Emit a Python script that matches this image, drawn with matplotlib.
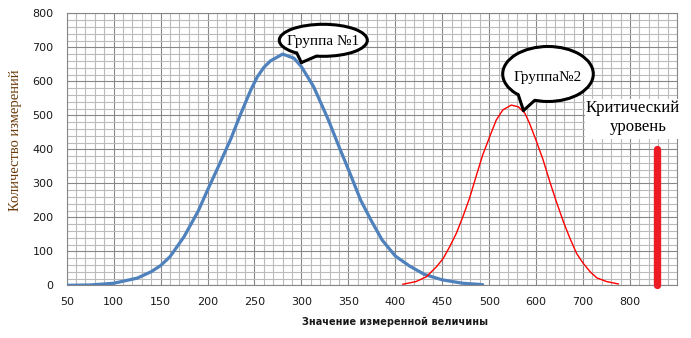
import numpy as np
import matplotlib
matplotlib.use('Agg')
import matplotlib.pyplot as plt
from matplotlib.patches import Ellipse, Polygon, Rectangle
from matplotlib.lines import Line2D

# ---------------- data ----------------
x_tick_values = [50, 100, 150, 200, 250, 300, 350, 400, 450, 500, 600, 700, 800]
y_tick_values = [0, 100, 200, 300, 400, 500, 600, 700, 800]

group1_x = [50, 75, 100, 125, 140, 150, 160, 175, 190, 200, 212, 225, 235, 246, 253,
            260, 267, 280, 292, 300, 313, 328, 340, 351, 363, 374, 386, 400, 415,
            431, 450, 472, 493]
group1_y = [0, 1, 6, 21, 40, 58, 84, 143, 218, 280, 352, 432, 502, 574, 613,
            641, 660, 680, 668, 643, 584, 491, 408, 334, 251, 192, 133, 86, 57,
            32, 16, 6, 2]

group2_x = [408, 422, 433, 444, 451, 458, 465, 472, 479, 486, 493, 501, 515, 529,
            547, 562, 576, 586, 601, 615, 629, 643, 658, 672, 686, 700, 715, 729,
            750, 775]
group2_y = [3, 11, 25, 55, 79, 114, 153, 202, 256, 320, 383, 437, 486, 516,
            530, 525, 506, 476, 422, 368, 305, 246, 187, 138, 94, 65, 40, 22,
            11, 4]

critical_x = 858
critical_y = [0, 400]

label_group1 = "Группа №1"
label_group2 = "Группа№2"
label_crit1 = "Критический"
label_crit2 = "уровень"
x_label = "Значение измеренной величины"
y_label = "Количество измерений"


# ---------------- piecewise axis scale (category-like spacing) ----------------
def fwd(x):
    x = np.asarray(x, dtype=float)
    return np.where(x <= 500, (x - 50) / 50.0, 9 + (x - 500) / 100.0)


def inv(u):
    u = np.asarray(u, dtype=float)
    return np.where(u <= 9, 50 + 50 * u, 500 + 100 * (u - 9))


W, H = 691, 338
fig = plt.figure(figsize=(W / 100, H / 100), dpi=100)
fig.patch.set_facecolor('white')

L, R, T, B = 66.7, 677.0, 13.3, 285.3
ax = fig.add_axes([L / W, 1 - B / H, (R - L) / W, (B - T) / H])
ax.set_xscale('function', functions=(fwd, inv))
ax.set_xlim(50, 900)
ax.set_ylim(0, 800)

minor_x = [v for v in list(np.arange(60, 500, 10)) + list(np.arange(520, 900, 20))
           if v not in x_tick_values]
ax.set_xticks(x_tick_values)
ax.set_xticklabels([str(v) for v in x_tick_values])
ax.set_xticks(minor_x, minor=True)
ax.set_yticks(y_tick_values)
ax.set_yticks([v for v in range(0, 801, 20) if v % 100], minor=True)

ax.set_axisbelow(True)
ax.grid(which='major', color='#878787', lw=0.8)
ax.grid(which='minor', color='#BBBBBB', lw=0.8)
ax.tick_params(which='both', length=0)
ax.tick_params(axis='y', which='major', labelsize=8, pad=9.5, labelcolor='#1a1a1a')
ax.tick_params(axis='x', which='major', labelsize=8, pad=8.5, labelcolor='#1a1a1a')
for s in ax.spines.values():
    s.set_color('#878787')
    s.set_linewidth(0.8)

# series
ax.plot(group1_x, group1_y, color='#4F81BD', lw=2.3, solid_joinstyle='round',
        solid_capstyle='round', zorder=3)
ax.plot(group2_x, group2_y, color='#FF0000', lw=1.0, solid_joinstyle='round', zorder=3)
ax.plot([critical_x, critical_x], critical_y, color='#ED1C24', lw=5.3,
        solid_capstyle='round', clip_on=False, zorder=4)

# axis labels
fig.text(16 / W, 1 - 140 / H, y_label, rotation=90, ha='center', va='center',
         family='Liberation Serif', fontsize=10.5, color='#6B3A0A')
fig.text(395 / W, 1 - 322 / H, x_label, ha='center', va='center',
         fontsize=7, fontweight='bold', color='#1a1a1a')


# ---------------- callouts ----------------
def px2fig(x, y):
    return (x / W, 1 - y / H)


def bubble(cx, cy, w, h, a1, a2, tip_data, text, fs, ty=None):
    tip_disp = ax.transData.transform(tip_data)
    tip = fig.transFigure.inverted().transform(tip_disp)
    e = Ellipse(px2fig(cx, cy), w / W, h / H, transform=fig.transFigure,
                facecolor='white', edgecolor='black', lw=2.2, zorder=10)
    fig.patches.append(e)
    pts = []
    inner = []
    for a in (a1, a2):
        r = np.deg2rad(a)
        pts.append(px2fig(cx + w / 2 * np.cos(r), cy + h / 2 * np.sin(r)))
        inner.append(px2fig(cx + (w / 2 - 4) * np.cos(r), cy + (h / 2 - 4) * np.sin(r)))
    poly = Polygon([inner[0], pts[0], tip, pts[1], inner[1]], closed=True,
                   transform=fig.transFigure, facecolor='white', edgecolor='none',
                   zorder=11)
    fig.patches.append(poly)
    for p in pts:
        fig.lines.append(Line2D([p[0], tip[0]], [p[1], tip[1]], transform=fig.transFigure,
                                color='black', lw=2.2, solid_capstyle='round', zorder=12))
    fig.text(*px2fig(cx, cy if ty is None else ty), text, ha='center', va='center',
             family='Liberation Serif', fontsize=fs, zorder=13)


bubble(323.3, 40.3, 88, 32, 127, 99, (300, 655), label_group1, 11, ty=41)
bubble(548, 74, 90.6, 55, 131, 107, (573, 514), label_group2, 11, ty=77)

# critical level label on white box
fig.patches.append(Rectangle(px2fig(585, 139), 96 / W, 40 / H, transform=fig.transFigure,
                             facecolor='white', edgecolor='none', zorder=9))
fig.text(*px2fig(633, 108), label_crit1, ha='center', va='center',
         family='Liberation Serif', fontsize=12, zorder=10)
fig.text(*px2fig(638, 127), label_crit2, ha='center', va='center',
         family='Liberation Serif', fontsize=12, zorder=10)

fig.savefig('out.png', dpi=100, facecolor='white')
